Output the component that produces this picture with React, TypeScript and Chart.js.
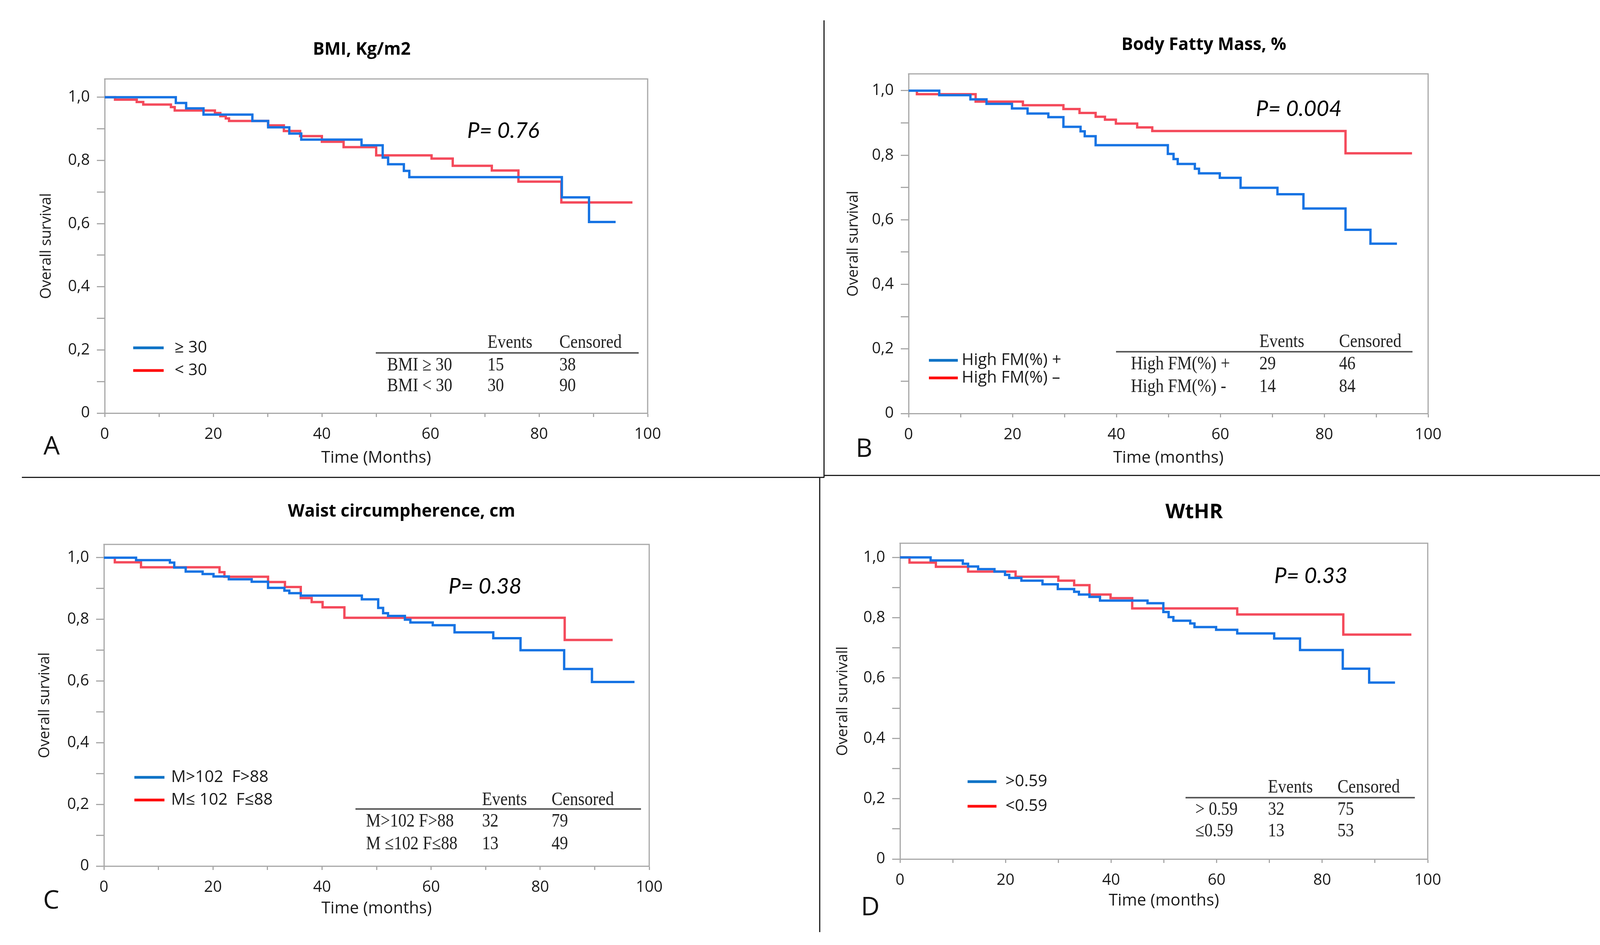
import React, { useEffect, useRef } from "react";
import { Chart, registerables } from "chart.js";

Chart.register(...registerables);

const PAGE_W = 4231;
const PAGE_H = 2418;

const BLUE = "#1673E3";
const RED = "#F44A5B";
const LEGEND_BLUE = "#0B72C6";
const LEGEND_RED = "#FF0A0A";
const AXIS_GRAY = "#A8A8A8";
const TEXT = "#1a1a1a";
const SANS = "'Open Sans', 'Noto Sans', sans-serif";
const SERIF = "'Liberation Serif', 'DejaVu Serif', serif";

// ---------- Axis ticks ----------
const yTickValues = [0, 0.1, 0.2, 0.3, 0.4, 0.5, 0.6, 0.7, 0.8, 0.9, 1.0];
const yTickLabels = ["0", "", "0,2", "", "0,4", "", "0,6", "", "0,8", "", "1,0"];
const xTickValues = [0, 10, 20, 30, 40, 50, 60, 70, 80, 90, 100];
const xTickLabels = ["0", "", "20", "", "40", "", "60", "", "80", "", "100"];

// ---------- Panel A: BMI ----------
const bmiHighTimes = [0, 13.1, 15.0, 18.2, 27.2, 30.1, 34.0, 36.2, 47.3, 51.2, 52.2, 55.1, 56.1, 84.2, 89.2, 94.1];
const bmiHighSurv = [1, 0.982, 0.965, 0.945, 0.925, 0.905, 0.885, 0.866, 0.848, 0.809, 0.788, 0.767, 0.747, 0.683, 0.605, 0.605];
const bmiLowTimes = [0, 1.9, 5.9, 7.1, 12.2, 12.9, 20.3, 21.3, 22.3, 22.9, 30.1, 33.0, 36.0, 40.0, 44.0, 50.0, 60.2, 64.1, 71.3, 76.2, 84.1, 97.2];
const bmiLowSurv = [1, 0.9925, 0.985, 0.977, 0.969, 0.958, 0.95, 0.94, 0.933, 0.925, 0.911, 0.893, 0.877, 0.859, 0.842, 0.816, 0.806, 0.783, 0.768, 0.733, 0.667, 0.667];
const bmiLegend = ["\u2265 30", "< 30"];
const bmiTable = [["BMI \u2265 30", "15", "38"], ["BMI < 30", "30", "90"]];

// ---------- Panel B: Body fatty mass ----------
const fmHighTimes = [0, 5.9, 11.9, 15.0, 19.9, 22.9, 26.9, 29.8, 33.1, 33.9, 36.0, 49.9, 51.0, 51.8, 55.1, 55.9, 59.9, 63.9, 71.0, 76.0, 84.1, 88.9, 94.0];
const fmHighSurv = [1, 0.986, 0.973, 0.959, 0.945, 0.929, 0.918, 0.888, 0.874, 0.859, 0.831, 0.804, 0.788, 0.773, 0.758, 0.744, 0.73, 0.699, 0.679, 0.635, 0.569, 0.526, 0.526];
const fmLowTimes = [0, 1.6, 12.9, 22.0, 29.8, 32.9, 36.0, 37.8, 39.9, 44.0, 46.9, 84.1, 96.9];
const fmLowSurv = [1, 0.989, 0.966, 0.955, 0.943, 0.931, 0.919, 0.91, 0.898, 0.886, 0.875, 0.806, 0.806];
const fmLegend = ["High FM(%) +", "High FM(%) \u2013"];
const fmTable = [["High FM(%) +", "29", "46"], ["High FM(%) -", "14", "84"]];

// ---------- Panel C: Waist circumference ----------
const waistHighTimes = [0, 5.9, 12.1, 12.9, 15.0, 18.1, 20.1, 22.9, 27.1, 30.1, 33.1, 34.0, 36.1, 47.3, 50.3, 51.2, 52.1, 55.2, 56.2, 60.3, 64.3, 71.4, 76.4, 84.4, 89.5, 97.3];
const waistHighSurv = [1, 0.992, 0.984, 0.968, 0.955, 0.947, 0.939, 0.93, 0.922, 0.902, 0.893, 0.885, 0.877, 0.865, 0.837, 0.82, 0.811, 0.799, 0.79, 0.781, 0.758, 0.739, 0.7, 0.639, 0.597, 0.597];
const waistLowTimes = [0, 2.0, 6.8, 21.2, 22.1, 30.1, 33.2, 36.1, 38.1, 40.1, 44.1, 84.5, 93.3];
const waistLowSurv = [1, 0.985, 0.969, 0.953, 0.938, 0.921, 0.905, 0.869, 0.856, 0.839, 0.805, 0.733, 0.733];
const waistLegend = ["M>102  F>88", "M\u2264 102  F\u226488"];
const waistTable = [["M>102 F>88", "32", "79"], ["M \u2264102 F\u226488", "13", "49"]];

// ---------- Panel D: WtHR ----------
const wthrHighTimes = [0, 5.8, 11.9, 12.9, 14.8, 17.9, 19.9, 20.7, 23.0, 27.0, 29.9, 33.0, 33.9, 35.9, 37.9, 46.9, 49.9, 50.9, 51.8, 55.0, 55.8, 59.9, 63.9, 70.9, 75.8, 83.9, 88.9, 93.8];
const wthrHighSurv = [1, 0.99, 0.979, 0.97, 0.961, 0.953, 0.942, 0.932, 0.923, 0.911, 0.895, 0.886, 0.877, 0.869, 0.857, 0.848, 0.819, 0.802, 0.79, 0.781, 0.769, 0.76, 0.748, 0.731, 0.693, 0.631, 0.585, 0.585];
const wthrLowTimes = [0, 1.8, 6.8, 12.9, 21.9, 30.0, 33.0, 35.9, 39.9, 44.0, 63.9, 84.0, 96.9];
const wthrLowSurv = [1, 0.983, 0.969, 0.953, 0.936, 0.923, 0.908, 0.877, 0.865, 0.831, 0.811, 0.744, 0.744];
const wthrLegend = [">0.59", "<0.59"];
const wthrTable = [["> 0.59", "32", "75"], ["\u22640.59", "13", "53"]];

const tableHeader = ["Events", "Censored"];
const panelTitles = ["BMI, Kg/m2", "Body Fatty Mass, %", "Waist circumpherence, cm", "WtHR"];
const pValues = ["P= 0.76", "P= 0.004", "P= 0.38", "P= 0.33"];
const panelLetters = ["A", "B", "C", "D"];
const yTitles = ["Overall survival", "Overall survival", "Overall survival", "Overall survivall"];
const xTitles = ["Time (Months)", "Time (months)", "Time (months)", "Time (months)"];

// ---------- Layout (page pixels) ----------
type Layout = {
  plotLeft: number; plotRight: number; boxTop: number; plotBottom: number; yMax: number;
  yTitleX: number; xTitleY: number;
  titleX: number; titleY: number; titleSize: number;
  pX: number; pY: number;
  legX1: number; legX2: number; legTextX: number; legY: number[];
  tabX1: number; tabX2: number; tabLineY: number; tabHeadY: number; tabRowY: number[]; tabColX: number[];
  letterX: number; letterY: number;
};

const layouts: Layout[] = [
  {
    plotLeft: 268, plotRight: 1658, boxTop: 202, plotBottom: 1057, yMax: 1.058,
    yTitleX: 119, xTitleY: 1172, titleX: 926, titleY: 127, titleSize: 44, pX: 1196, pY: 335,
    legX1: 341, legX2: 419, legTextX: 447, legY: [890, 948],
    tabX1: 962, tabX2: 1635, tabLineY: 903, tabHeadY: 877, tabRowY: [935, 988], tabColX: [991, 1248, 1432],
    letterX: 132, letterY: 1144,
  },
  {
    plotLeft: 2326, plotRight: 3656, boxTop: 189, plotBottom: 1058, yMax: 1.052,
    yTitleX: 2185, xTitleY: 1172, titleX: 3082, titleY: 115, titleSize: 44, pX: 3215, pY: 279,
    legX1: 2378, legX2: 2452, legTextX: 2462, legY: [922, 967],
    tabX1: 2857, tabX2: 3616, tabLineY: 900, tabHeadY: 875, tabRowY: [932, 990], tabColX: [2895, 3224, 3428],
    letterX: 2212, letterY: 1150,
  },
  {
    plotLeft: 266, plotRight: 1662, boxTop: 1393, plotBottom: 2216, yMax: 1.043,
    yTitleX: 115, xTitleY: 2325, titleX: 1028, titleY: 1309, titleSize: 44, pX: 1148, pY: 1501,
    legX1: 344, legX2: 421, legTextX: 438, legY: [1989, 2047],
    tabX1: 910, tabX2: 1641, tabLineY: 2070, tabHeadY: 2047, tabRowY: [2102, 2160], tabColX: [937, 1234, 1412],
    letterX: 131, letterY: 2306,
  },
  {
    plotLeft: 2304, plotRight: 3655, boxTop: 1390, plotBottom: 2198, yMax: 1.047,
    yTitleX: 2158, xTitleY: 2305, titleX: 3057, titleY: 1311, titleSize: 52, pX: 3262, pY: 1474,
    legX1: 2477, legX2: 2551, legTextX: 2574, legY: [2000, 2063],
    tabX1: 3035, tabX2: 3622, tabLineY: 2041, tabHeadY: 2015, tabRowY: [2072, 2127], tabColX: [3060, 3246, 3424],
    letterX: 2228, letterY: 2323,
  },
];

type Series = { label: string; times: number[]; surv: number[]; color: string; legendColor: string };
type Panel = {
  id: number; layout: Layout; series: Series[]; table: string[][];
};

const panels: Panel[] = [
  {
    id: 0, layout: layouts[0], table: bmiTable,
    series: [
      { label: bmiLegend[0], times: bmiHighTimes, surv: bmiHighSurv, color: BLUE, legendColor: LEGEND_BLUE },
      { label: bmiLegend[1], times: bmiLowTimes, surv: bmiLowSurv, color: RED, legendColor: LEGEND_RED },
    ],
  },
  {
    id: 1, layout: layouts[1], table: fmTable,
    series: [
      { label: fmLegend[0], times: fmHighTimes, surv: fmHighSurv, color: BLUE, legendColor: LEGEND_BLUE },
      { label: fmLegend[1], times: fmLowTimes, surv: fmLowSurv, color: RED, legendColor: LEGEND_RED },
    ],
  },
  {
    id: 2, layout: layouts[2], table: waistTable,
    series: [
      { label: waistLegend[0], times: waistHighTimes, surv: waistHighSurv, color: BLUE, legendColor: LEGEND_BLUE },
      { label: waistLegend[1], times: waistLowTimes, surv: waistLowSurv, color: RED, legendColor: LEGEND_RED },
    ],
  },
  {
    id: 3, layout: layouts[3], table: wthrTable,
    series: [
      { label: wthrLegend[0], times: wthrHighTimes, surv: wthrHighSurv, color: BLUE, legendColor: LEGEND_BLUE },
      { label: wthrLegend[1], times: wthrLowTimes, surv: wthrLowSurv, color: RED, legendColor: LEGEND_RED },
    ],
  },
];

const Y_TITLE_SIZE = 38;
const X_TITLE_SIZE = 42;
const TICK_SIZE = 40;
const TABLE_SQUEEZE = 0.88;

function labelFor(values: number[], labels: string[], v: number): string {
  for (let i = 0; i < values.length; i++) {
    if (Math.abs(values[i] - v) < 1e-6) return labels[i];
  }
  return "";
}

function condensedText(ctx: CanvasRenderingContext2D, text: string, x: number, y: number) {
  ctx.save();
  ctx.translate(x, y);
  ctx.scale(TABLE_SQUEEZE, 1);
  ctx.fillText(text, 0, 0);
  ctx.restore();
}

const overlayPlugin = {
  id: "overlay",
  afterDraw(chart: any, _args: any, opts: any) {
    const panel: Panel = opts.panel;
    if (!panel) return;
    const L = panel.layout;
    const i = panel.id;
    const ctx: CanvasRenderingContext2D = chart.ctx;
    const ca = chart.chartArea;
    ctx.save();

    // top and right frame lines
    ctx.strokeStyle = AXIS_GRAY;
    ctx.lineWidth = 3;
    ctx.beginPath();
    ctx.moveTo(ca.left - 1.5, ca.top);
    ctx.lineTo(ca.right, ca.top);
    ctx.lineTo(ca.right, ca.bottom + 1.5);
    ctx.stroke();

    ctx.textBaseline = "middle";

    // title
    ctx.fillStyle = "#000";
    ctx.textAlign = "center";
    ctx.font = `bold ${L.titleSize}px ${SANS}`;
    ctx.fillText(panelTitles[i], L.titleX, L.titleY);

    // P value
    ctx.textAlign = "left";
    ctx.font = `italic 56px Lato, ${SANS}`;
    ctx.fillText(pValues[i], L.pX, L.pY);

    // legend (from datasets)
    ctx.font = `42px ${SANS}`;
    chart.data.datasets.forEach((ds: any, k: number) => {
      const y = L.legY[k];
      ctx.strokeStyle = ds.legendColor;
      ctx.lineWidth = 7;
      ctx.beginPath();
      ctx.moveTo(L.legX1, y);
      ctx.lineTo(L.legX2, y);
      ctx.stroke();
      ctx.fillStyle = TEXT;
      ctx.fillText(ds.label, L.legTextX, y);
    });

    // events / censored table
    ctx.font = `48px ${SERIF}`;
    ctx.fillStyle = "#222";
    condensedText(ctx, tableHeader[0], L.tabColX[1], L.tabHeadY);
    condensedText(ctx, tableHeader[1], L.tabColX[2], L.tabHeadY);
    ctx.strokeStyle = "#5a5a5a";
    ctx.lineWidth = 4;
    ctx.beginPath();
    ctx.moveTo(L.tabX1, L.tabLineY);
    ctx.lineTo(L.tabX2, L.tabLineY);
    ctx.stroke();
    panel.table.forEach((row, r) => {
      row.forEach((cell, c) => {
        condensedText(ctx, cell, L.tabColX[c], L.tabRowY[r]);
      });
    });

    // panel letter
    ctx.fillStyle = "#111";
    ctx.textAlign = "center";
    ctx.font = `66px ${SANS}`;
    ctx.fillText(panelLetters[i], L.letterX, L.letterY);

    ctx.restore();
  },
};

function makeConfig(panel: Panel): any {
  const L = panel.layout;
  const padLeft = L.yTitleX - (Y_TITLE_SIZE * 1.2) / 2;
  const yWidth = L.plotLeft - padLeft;
  const xBottom = L.xTitleY + (X_TITLE_SIZE * 1.2) / 2;
  const xHeight = xBottom - L.plotBottom;
  const i = panel.id;
  return {
    type: "line",
    data: {
      datasets: panel.series.map((s) => ({
        label: s.label,
        data: s.times.map((t, k) => ({ x: t, y: s.surv[k] })),
        borderColor: s.color,
        backgroundColor: s.color,
        legendColor: s.legendColor,
        borderWidth: 6,
        stepped: "before",
        pointRadius: 0,
        pointHoverRadius: 0,
        fill: false,
        borderCapStyle: "butt",
        borderJoinStyle: "miter",
      })),
    },
    options: {
      animation: false,
      responsive: false,
      devicePixelRatio: 1,
      events: [],
      layout: {
        padding: {
          left: padLeft,
          top: L.boxTop,
          right: PAGE_W - L.plotRight,
          bottom: PAGE_H - xBottom,
        },
      },
      scales: {
        x: {
          type: "linear",
          min: 0,
          max: 100,
          afterBuildTicks: (s: any) => {
            s.ticks = xTickValues.map((v) => ({ value: v }));
          },
          afterFit: (s: any) => {
            s.height = xHeight;
          },
          ticks: {
            autoSkip: false,
            maxRotation: 0,
            padding: 21,
            color: TEXT,
            font: { family: SANS, size: TICK_SIZE },
            callback: (v: number) => labelFor(xTickValues, xTickLabels, v),
          },
          grid: { drawOnChartArea: false, drawTicks: true, tickLength: 10, tickColor: AXIS_GRAY, tickWidth: 3 },
          border: { display: true, color: AXIS_GRAY, width: 3 },
          title: {
            display: true,
            text: xTitles[i],
            color: TEXT,
            padding: 0,
            font: { family: SANS, size: X_TITLE_SIZE },
          },
        },
        y: {
          type: "linear",
          min: 0,
          max: L.yMax,
          afterBuildTicks: (s: any) => {
            s.ticks = yTickValues.map((v) => ({ value: v }));
          },
          afterFit: (s: any) => {
            s.width = yWidth;
          },
          ticks: {
            autoSkip: false,
            padding: 18,
            color: TEXT,
            font: { family: SANS, size: TICK_SIZE },
            callback: (v: number) => labelFor(yTickValues, yTickLabels, v),
          },
          grid: { drawOnChartArea: false, drawTicks: true, tickLength: 20, tickColor: AXIS_GRAY, tickWidth: 3 },
          border: { display: true, color: AXIS_GRAY, width: 3 },
          title: {
            display: true,
            text: yTitles[i],
            color: TEXT,
            padding: 0,
            font: { family: SANS, size: Y_TITLE_SIZE },
          },
        },
      },
      plugins: {
        legend: { display: false },
        tooltip: { enabled: false },
        title: { display: false },
        overlay: { panel },
      },
    },
    plugins: [overlayPlugin],
  };
}

function PanelChart({ panel }: { panel: Panel }) {
  const ref = useRef<HTMLCanvasElement | null>(null);
  useEffect(() => {
    if (!ref.current) return;
    const chart = new Chart(ref.current, makeConfig(panel));
    return () => chart.destroy();
  }, [panel]);
  return (
    <canvas
      ref={ref}
      width={PAGE_W}
      height={PAGE_H}
      style={{ position: "absolute", left: 0, top: 0, width: PAGE_W, height: PAGE_H }}
    />
  );
}

const dividerStyle = (left: number, top: number, width: number, height: number): React.CSSProperties => ({
  position: "absolute",
  left,
  top,
  width,
  height,
  background: "#202020",
});

export default function App() {
  return (
    <div
      style={{
        position: "absolute",
        left: 0,
        top: 0,
        width: PAGE_W,
        height: PAGE_H,
        background: "#ffffff",
        overflow: "hidden",
      }}
    >
      <div style={dividerStyle(2108, 52, 3, 1170)} />
      <div style={dividerStyle(56, 1220, 2054, 3)} />
      <div style={dividerStyle(2108, 1215, 2110, 3)} />
      <div style={dividerStyle(2097, 1220, 3, 1165)} />
      {panels.map((p) => (
        <PanelChart key={p.id} panel={p} />
      ))}
    </div>
  );
}
